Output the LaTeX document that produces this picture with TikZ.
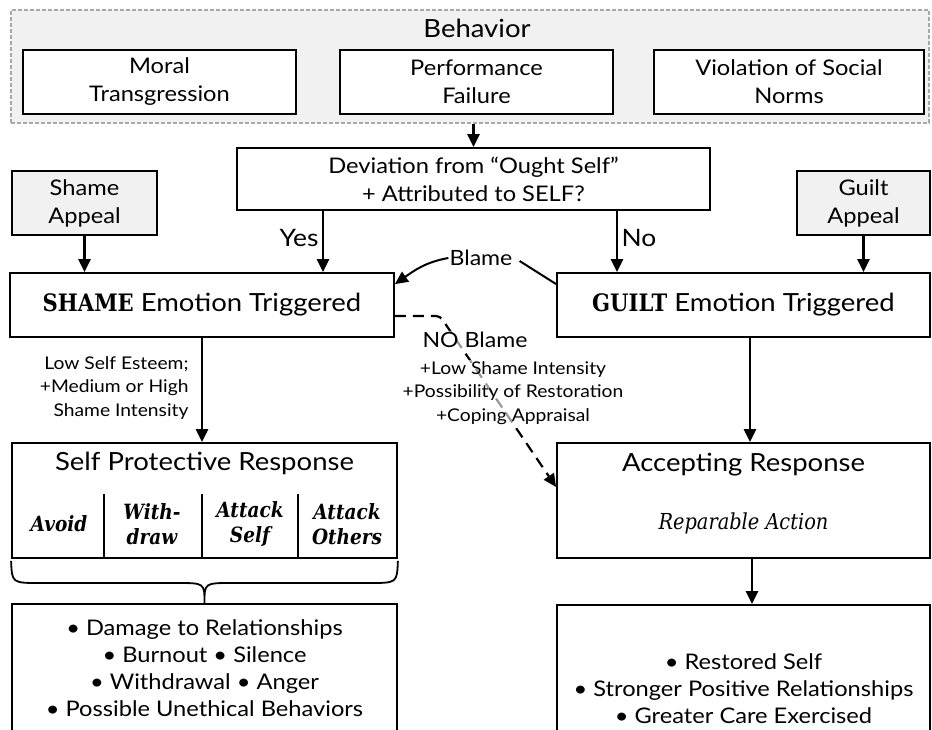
\documentclass[tikz,border=0pt]{standalone}
\usepackage{fontspec}
\setmainfont{Lato}[FakeStretch=1.1]
\newfontfamily\slabfont[FakeStretch=0.88]{DejaVu Serif}
\usepackage{tikz}
\usetikzlibrary{positioning,arrows.meta}
\definecolor{appealgray}{HTML}{F1F1F1}
\definecolor{groupline}{HTML}{A8A8A8}
\newcommand{\txtbig}{\fontsize{25}{28}\selectfont}
\newcommand{\txttop}{\fontsize{21.5}{28}\selectfont}
\newcommand{\txtlist}{\fontsize{21.5}{27}\selectfont}
\newcommand{\txtsmall}{\fontsize{17.5}{23.5}\selectfont}
\newcommand{\txtslab}{\slabfont\bfseries\fontsize{24}{27}\selectfont}
\tikzset{
  box/.style={draw,line width=1.8pt,fill=white,align=center,inner sep=2pt},
  appealbox/.style={box,fill=appealgray},
  arr/.style={line width=2.4pt,-{Triangle[length=13pt,width=12pt]}},
  cell/.style={align=center,font=\slabfont\bfseries\itshape\fontsize{21}{25}\selectfont}
}

\begin{document}
\begin{tikzpicture}[x=1pt,y=1pt]
    \useasboundingbox (0,0) rectangle (932,729);
    % behaviour group
    \node [draw=groupline,fill=appealgray,dash pattern=on 4pt off 2pt,line width=1.2pt,
           minimum width=918pt,minimum height=113pt] (behavior) at (470,662.5) {};
    \node [font=\fontsize{25}{28}\selectfont] (behaviorlbl) at (477,701) {Behavior};
    \node [box,font=\txttop,minimum width=273pt,minimum height=64pt] (moral) at (159.5,647) {Moral\\Transgression};
    \node [box,font=\txttop,minimum width=273pt,minimum height=64pt] (perf) at (476.5,647) {Performance\\Failure};
    \node [box,font=\txttop,minimum width=270pt,minimum height=64pt] (social) at (789,647) {Violation of Social\\Norms};
    % decision
    \node [box,font=\txttop,minimum width=473pt,minimum height=62pt] (deviation) at (473.5,550) {Deviation from “Ought Self”\\+ Attributed to SELF?};
    \node [appealbox,font=\txttop,minimum width=145pt,minimum height=64pt] (shameapp) at (84.5,526) {Shame\\Appeal};
    \node [appealbox,font=\txttop,minimum width=133pt,minimum height=64pt] (guiltapp) at (863.5,526) {Guilt\\Appeal};
    % emotions
    \node [box,font=\txtbig,minimum width=384pt,minimum height=64pt] (shame) at (202,424) {{\txtslab SHAME} Emotion Triggered};
    \node [box,font=\txtbig,minimum width=373pt,minimum height=64pt] (guilt) at (743.5,424) {{\txtslab GUILT} Emotion Triggered};
    % responses
    \node [box,minimum width=385pt,minimum height=115pt] (selfprot) at (204.5,228.5) {};
    \node [font=\txtbig] (selfprotlbl) at (204.5,266) {Self Protective Response};
    \node [cell] (avoid) at (59,205) {Avoid};
    \node [cell] (withdraw) at (152,205) {With-\\draw};
    \node [cell] (attself) at (250,205) {Attack\\Self};
    \node [cell] (attothers) at (347,205) {Attack\\Others};
    \draw [line width=1.8pt] (104,235) -- (104,171);
    \draw [line width=1.8pt] (202,235) -- (202,171);
    \draw [line width=1.8pt] (298,235) -- (298,171);
    \node [box,minimum width=373pt,minimum height=115pt] (accept) at (743.5,228.5) {};
    \node [font=\txtbig] (acceptlbl) at (743.5,264) {Accepting Response};
    \node [font=\slabfont\itshape\fontsize{22}{24}\selectfont] (repair) at (743.5,206) {Reparable Action};
    % outcomes
    \node [box,minimum width=385pt,minimum height=131pt] (outbad) at (204.5,59.5) {};
    \node [font=\txtlist,align=center] (outbadlbl) at (204.5,61) {• Damage to Relationships\\• Burnout • Silence\\• Withdrawal • Anger\\• Possible Unethical Behaviors};
    \node [box,minimum width=373pt,minimum height=131pt] (outgood) at (743.5,58.5) {};
    \node [font=\txtlist,align=center] (outgoodlbl) at (743.5,40) {• Restored Self\\• Stronger Positive Relationships\\• Greater Care Exercised};
    % brace
    \draw [line width=1.8pt] ([yshift=-2pt]selfprot.south west) .. controls (12,146) .. (40,146) -- (177,146)
        .. controls (204.5,146) .. (204.5,126) .. controls (204.5,146) .. (232,146) -- (369,146)
        .. controls (397,146) .. ([yshift=-2pt]selfprot.south east);
    % connectors
    \draw [arr] (deviation.north |- behavior.south) -- (deviation.north);
    \draw [arr] (shameapp.south) -- (shameapp.south |- shame.north);
    \draw [arr] (guiltapp.south) -- (guiltapp.south |- guilt.north);
    \draw [arr] ([xshift=-150.5pt]deviation.south) -- ([xshift=-150.5pt]deviation.south |- shame.north)
        node [pos=0.45,left,font=\fontsize{24}{28}\selectfont] (yes) {Yes};
    \draw [arr] ([xshift=143.5pt]deviation.south) -- ([xshift=143.5pt]deviation.south |- guilt.north)
        node [pos=0.45,right,font=\fontsize{24}{28}\selectfont] (no) {No};
    \node [font=\fontsize{21}{24}\selectfont,inner sep=1pt] (blame) at (481,471) {Blame};
    \draw [line width=2pt] ([yshift=-12pt]guilt.north west) -- ([xshift=6pt,yshift=-3pt]blame.east);
    \draw [arr,line width=2pt] (blame.west) to[out=190,in=35] ([yshift=-12pt]shame.north east);
    \draw [arr] (shame.south) -- (shame.south |- selfprot.north);
    \node [font=\txtsmall,align=right,anchor=east] (lowesteem) at (192,341) {Low Self Esteem;\\+Medium or High\\Shame Intensity};
    \draw [arr] ([xshift=6.5pt]guilt.south) -- ([xshift=6.5pt]guilt.south |- accept.north);
    \draw [arr] ([xshift=8.5pt]accept.south) -- ([xshift=8.5pt]accept.south |- outgood.north);
    \draw [arr,line width=2.2pt,dash pattern=on 11pt off 7pt,rounded corners=4pt]
        ([yshift=-11pt]shame.east) -- (440,413) -- ([yshift=13.5pt]accept.west);
    \node [font=\fontsize{21}{24}\selectfont,fill=white,fill opacity=0.6,text opacity=1,inner sep=1pt] (noblame) at (475,389) {NO Blame};
    \node [font=\txtsmall,align=center,fill=white,fill opacity=0.6,text opacity=1,inner sep=1pt] (noblamecond) at (513,336)
        {+Low Shame Intensity\\+Possibility of Restoration\\+Coping Appraisal};
\end{tikzpicture}
\end{document}
